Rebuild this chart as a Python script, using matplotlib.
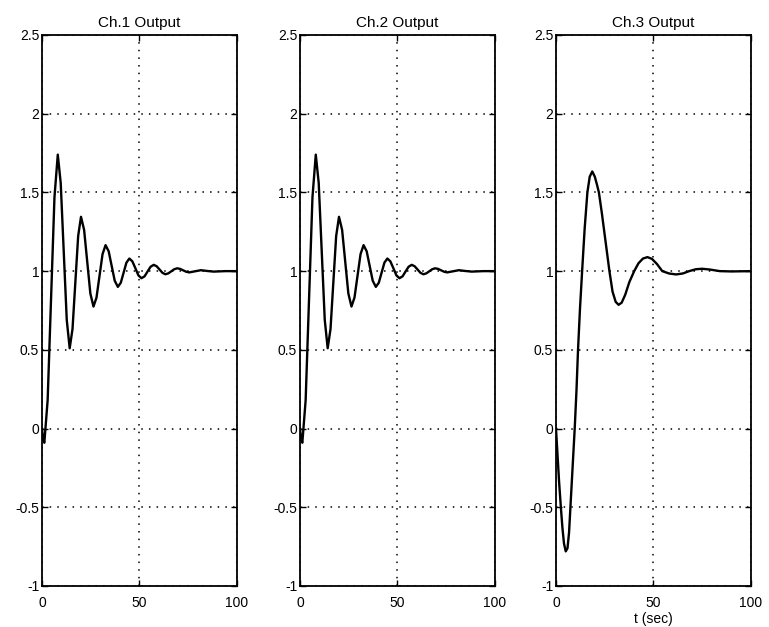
import numpy as np
import matplotlib
matplotlib.use('Agg')
import matplotlib.pyplot as plt

# step responses of the three output channels
t_fast = [0, 0.6, 1.2, 2.9, 4.65, 6.4, 8.1, 9.6, 11.15, 12.7, 14.2, 15.65, 17.1,
          18.55, 20.0, 21.6, 23.2, 24.8, 26.4, 27.95, 29.5, 31.05, 32.6, 34.2,
          35.75, 37.3, 38.9, 40.4, 41.85, 43.3, 44.8, 46.35, 47.9, 49.45, 51.0,
          52.6, 54.15, 55.7, 57.3, 58.8, 60.3, 61.8, 63.3, 64.8, 66.3, 67.8,
          69.3, 70.85, 72.4, 73.95, 75.5, 78.5, 81.5, 84.7, 88.0, 94.0, 100.0]
y_ch1 = [0, -0.07, -0.09, 0.18, 0.825, 1.47, 1.74, 1.56, 1.125, 0.69, 0.51,
         0.632, 0.928, 1.223, 1.345, 1.262, 1.06, 0.858, 0.775, 0.832, 0.97,
         1.108, 1.165, 1.126, 1.032, 0.939, 0.9, 0.926, 0.99, 1.054, 1.08,
         1.062, 1.018, 0.973, 0.955, 0.967, 0.998, 1.028, 1.04, 1.031, 1.01,
         0.989, 0.98, 0.986, 0.999, 1.012, 1.018, 1.014, 1.005, 0.996, 0.992,
         0.999, 1.006, 1.001, 0.997, 1.0, 1.0]
# channel 2 has the same response as channel 1
y_ch2 = list(y_ch1)

t_slow = [0, 0.8, 1.6, 2.5, 3.3, 4.1, 5.0, 5.9, 6.7, 7.4, 8.5, 9.6, 10.5, 11.3,
          12.3, 13.4, 14.7, 16.1, 17.3, 18.6, 19.9, 21.0, 22.0, 23.5, 25.4,
          27.4, 29.0, 30.6, 32.1, 33.7, 35.5, 37.6, 40.1, 42.3, 44.6, 46.9,
          49.2, 51.8, 54.5, 58.0, 61.6, 65.0, 68.3, 71.7, 75.0, 79.0, 84.0,
          90.0, 100.0]
y_ch3 = [0, -0.17, -0.34, -0.5, -0.63, -0.73, -0.78, -0.76, -0.66, -0.5, -0.25,
         0.0, 0.24, 0.5, 0.76, 1.0, 1.27, 1.5, 1.6, 1.633, 1.6, 1.55, 1.5,
         1.37, 1.19, 1.0, 0.87, 0.805, 0.786, 0.8, 0.85, 0.93, 1.0, 1.05, 1.08,
         1.089, 1.078, 1.045, 1.0, 0.985, 0.979, 0.985, 1.0, 1.012, 1.015,
         1.01, 1.0, 0.998, 1.0]

titles = ['Ch.1 Output', 'Ch.2 Output', 'Ch.3 Output']
xticks = [0, 50, 100]
yticks = [-1, -0.5, 0, 0.5, 1, 1.5, 2, 2.5]
ytick_labels = ['-1', '-0.5', '0', '0.5', '1', '1.5', '2', '2.5']

plt.rcParams['font.family'] = ['Liberation Sans', 'DejaVu Sans']
plt.rcParams['axes.unicode_minus'] = False

fig = plt.figure(figsize=(7.69, 6.27), dpi=100)
lefts = [0.0546, 0.3901, 0.7230]
series = [(t_fast, y_ch1), (t_fast, y_ch2), (t_slow, y_ch3)]

for left, title, (tt, yy) in zip(lefts, titles, series):
    ax = fig.add_axes([left, 0.0654, 0.2536, 0.8788])
    ax.plot(tt, yy, color='black', lw=1.7, zorder=3)
    ax.set_xlim(0, 100)
    ax.set_ylim(-1, 2.5)
    ax.set_xticks(xticks)
    ax.set_yticks(yticks)
    ax.set_yticklabels(ytick_labels)
    ax.grid(True, color='black', lw=1.1, linestyle=(0, (1, 4)))
    ax.tick_params(direction='in', length=4, width=1, top=True, right=True,
                   labelsize=10)
    ax.tick_params(axis='y', pad=2)
    ax.tick_params(axis='x', pad=7)
    for sp in ax.spines.values():
        sp.set_linewidth(1.3)
    ax.set_title(title, fontsize=11, pad=6)

ax.set_xlabel('t (sec)', fontsize=10, labelpad=2)

plt.savefig('out.png', dpi=100)
